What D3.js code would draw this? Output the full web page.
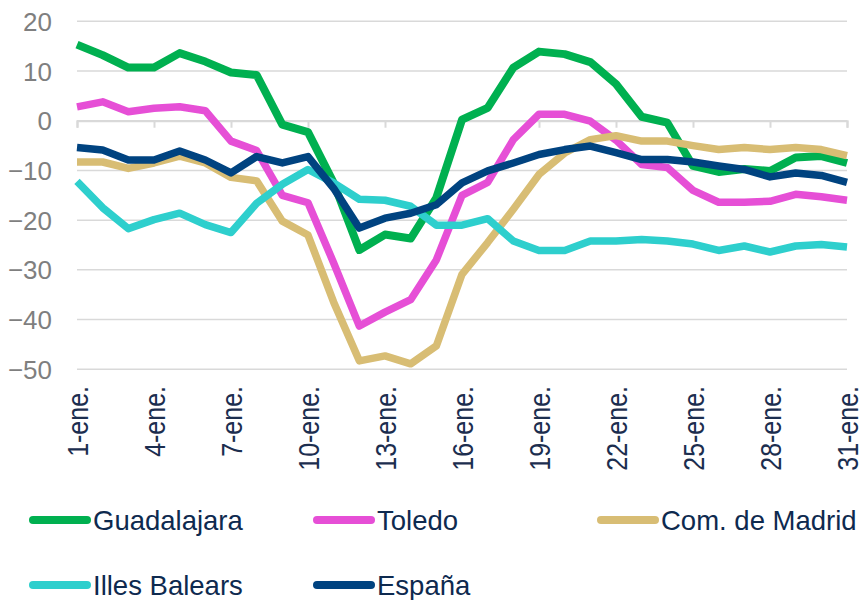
<!DOCTYPE html>
<html><head><meta charset="utf-8">
<script src="https://cdn.jsdelivr.net/npm/d3@7/dist/d3.min.js"></script>
<style>
html,body{margin:0;padding:0;background:#fff;}
svg{display:block;font-family:"Liberation Sans",Arial,sans-serif;}
</style></head>
<body><svg id="chart" width="862" height="600"></svg>
<script>
const days = d3.range(1, 32);
const dayLabels = days.map(d => d + "-ene.");
const tickDays = [1, 4, 7, 10, 13, 16, 19, 22, 25, 28, 31];
const yTicks = [20, 10, 0, -10, -20, -30, -40, -50];

const seriesNames = ["Guadalajara", "Toledo", "Com. de Madrid", "Illes Balears", "España"];
const seriesColors = ["#00B050", "#E64FD6", "#D8BD74", "#2ECFCD", "#004380"];

const guadalajara = [15.3, 13.2, 10.7, 10.7, 13.6, 11.9, 9.7, 9.2, -0.8, -2.3, -12.5, -26.0, -22.9, -23.7, -15.5, 0.2, 2.6, 10.7, 13.9, 13.4, 11.8, 7.4, 0.8, -0.4, -9.1, -10.3, -9.7, -10.1, -7.4, -7.1, -8.5];
const toledo = [2.8, 3.8, 1.8, 2.5, 2.8, 2.0, -4.1, -6.0, -15.0, -16.5, -28.6, -41.3, -38.5, -36.0, -28.0, -15.0, -12.4, -3.8, 1.3, 1.3, -0.1, -3.9, -8.8, -9.4, -14.0, -16.4, -16.4, -16.2, -14.8, -15.3, -16.0];
const madrid = [-8.3, -8.3, -9.6, -8.5, -7.1, -8.5, -11.4, -12.1, -20.2, -23.0, -36.5, -48.3, -47.3, -48.9, -45.3, -30.9, -24.5, -17.8, -10.8, -6.5, -3.8, -3.0, -4.1, -4.1, -5.0, -5.8, -5.4, -5.8, -5.4, -5.8, -7.0];
const baleares = [-12.2, -17.5, -21.7, -19.9, -18.6, -20.9, -22.5, -16.6, -12.8, -9.8, -12.5, -15.8, -16.0, -17.2, -21.0, -21.0, -19.7, -24.2, -26.1, -26.1, -24.2, -24.2, -23.9, -24.2, -24.8, -26.1, -25.2, -26.4, -25.2, -24.9, -25.4];
const espana = [-5.4, -5.9, -7.9, -7.9, -6.1, -7.9, -10.5, -7.2, -8.5, -7.2, -13.6, -21.6, -19.6, -18.6, -16.9, -12.5, -10.1, -8.5, -6.8, -5.8, -5.1, -6.4, -7.8, -7.8, -8.3, -9.1, -9.8, -11.3, -10.5, -11.0, -12.4];
const seriesValues = [guadalajara, toledo, madrid, baleares, espana];

const svg = d3.select("#chart");
const x = d3.scaleLinear().domain([1, 31]).range([77, 847]);
const y = d3.scaleLinear().domain([-50, 20]).range([369.3, 21.3]);
const gridColor = "#D9D9D9";

// gridlines
svg.append("g").selectAll("line").data(yTicks).join("line")
  .attr("x1", x(1)).attr("x2", x(31))
  .attr("y1", d => y(d)).attr("y2", d => y(d))
  .attr("stroke", gridColor).attr("stroke-width", 1.5);

// y axis labels
const yAxis = svg.append("g").attr("transform", "translate(52,0)")
  .call(d3.axisLeft(y).tickValues(yTicks).tickSize(0).tickPadding(0).tickFormat(d3.format("d")));
yAxis.select(".domain").remove();
yAxis.selectAll("text").attr("fill", "#7F7F7F").attr("font-size", 26)
  .attr("font-family", "Liberation Sans, Arial, sans-serif").attr("dy", "0.35em");

// category axis at zero with tick marks
const xAxis0 = svg.append("g").attr("transform", `translate(0,${y(0)})`)
  .call(d3.axisBottom(x).tickValues(tickDays).tickSize(7).tickFormat(""));
xAxis0.select(".domain").attr("stroke", gridColor).attr("stroke-width", 2);
xAxis0.selectAll(".tick line").attr("stroke", gridColor).attr("stroke-width", 2);

// category labels below plot
const xAxisL = svg.append("g").attr("transform", "translate(0,386)")
  .call(d3.axisBottom(x).tickValues(tickDays).tickSize(0).tickFormat(d => dayLabels[d - 1]));
xAxisL.select(".domain").remove();
xAxisL.selectAll("text")
  .attr("fill", "#1C2E4F").attr("font-size", 25)
  .attr("font-family", "Liberation Sans, Arial, sans-serif")
  .attr("text-anchor", "end")
  .attr("transform", "rotate(-90) scale(1,1.18)")
  .attr("x", 0).attr("y", 0).attr("dx", 0).attr("dy", "0.35em");

// lines
const line = d3.line().x((d, i) => x(days[i])).y(d => y(d));
svg.append("g").selectAll("path").data(seriesValues).join("path")
  .attr("d", d => line(d))
  .attr("fill", "none")
  .attr("stroke", (d, i) => seriesColors[i])
  .attr("stroke-width", (d, i) => i === 0 ? 8 : 7.5)
  .attr("stroke-linejoin", "round");

// legend
const legendPos = [[29, 520], [313, 520], [597, 520], [29, 585], [313, 585]];
const leg = svg.append("g").selectAll("g").data(seriesNames).join("g")
  .attr("transform", (d, i) => `translate(${legendPos[i][0]},${legendPos[i][1]})`);
leg.append("line").attr("x1", 4).attr("x2", 58).attr("y1", 0).attr("y2", 0)
  .attr("stroke", (d, i) => seriesColors[i]).attr("stroke-width", 8).attr("stroke-linecap", "round");
leg.append("text").attr("x", 64).attr("y", 0).attr("dy", "0.35em")
  .attr("fill", "#0E2A4F").attr("font-size", 27.5).text(d => d);
</script></body></html>
